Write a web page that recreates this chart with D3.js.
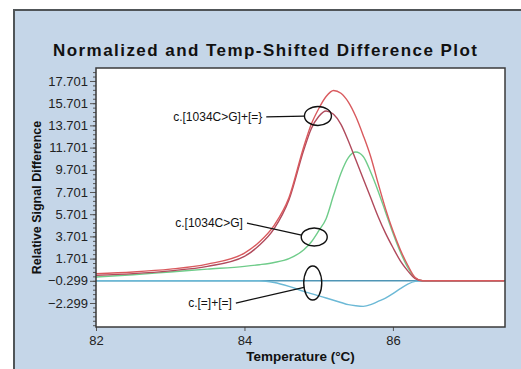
<!DOCTYPE html>
<html>
<head>
<meta charset="utf-8">
<script src="https://cdn.jsdelivr.net/npm/d3@7"></script>
<style>
  body { margin: 0; background: #fff; }
  svg { display: block; font-family: Arial, 'Liberation Sans', sans-serif; }
</style>
</head>
<body>
<div class="canva"></div>
<script>
// temperatures (°C) shared by all curves
const temps = [82, 82.5, 83, 83.5, 84, 84.2, 84.4, 84.6, 84.8, 84.9, 85.0, 85.1, 85.2, 85.3,
  85.4, 85.5, 85.6, 85.7, 85.8, 85.9, 86.0, 86.1, 86.2, 86.3, 86.4, 87.5];

// c.[1034C>G]+[=] (two replicates)
const hetA = [0.35, 0.5, 0.75, 1.2, 2.2, 3.2, 4.7, 7.2, 11.8, 13.8, 15.2, 16.3, 16.85, 16.6,
  15.8, 14.5, 12.8, 10.9, 8.5, 6.2, 4.2, 2.5, 1.1, 0.0, -0.3, -0.3];
const hetB = [0.2, 0.35, 0.6, 1.0, 1.9, 2.9, 4.4, 7.0, 11.5, 13.4, 14.5, 15.0, 14.7, 13.8,
  12.3, 10.6, 8.9, 7.2, 5.5, 4.0, 2.7, 1.5, 0.6, -0.1, -0.3, -0.3];
// c.[1034C>G]
const homo = [0.05, 0.25, 0.5, 0.75, 1.0, 1.15, 1.35, 1.7, 2.5, 3.2, 4.2, 5.3, 7.4, 9.4,
  10.8, 11.3, 10.9, 9.5, 7.8, 5.9, 4.0, 2.3, 0.9, -0.05, -0.3, -0.3];
// c.[=]+[=]
const wild = [-0.3, -0.3, -0.3, -0.3, -0.3, -0.3, -0.45, -0.8, -1.25, -1.45, -1.65, -1.85, -2.05, -2.25,
  -2.45, -2.55, -2.6, -2.45, -2.15, -1.85, -1.45, -1.0, -0.6, -0.35, -0.3, -0.3];

const baseline = -0.299;
const yTicks = [17.701, 15.701, 13.701, 11.701, 9.701, 7.701, 5.701, 3.701, 1.701, -0.299, -2.299];
const xTicks = [82, 84, 86];

// labels with their circled spot (data coords)
const notes = [
  { label: 'c.[1034C>G]+[=}', tx: 84.24, ty: 14.46, cx: 84.99, cy: 14.55, rx: 13.5, ry: 9.5 },
  { label: 'c.[1034C>G]', tx: 83.98, ty: 4.9, cx: 84.94, cy: 3.65, rx: 13, ry: 9 },
  { label: 'c.[=]+[=]', tx: 83.83, ty: -2.3, cx: 84.92, cy: -0.5, rx: 9, ry: 17 }
];

const W = 521, H = 369;
const svg = d3.select('.canva').append('svg')
  .attr('width', W)
  .attr('height', H);

// blue panel
svg.append('rect')
  .attr('x', 14).attr('y', 10)
  .attr('width', W).attr('height', H)
  .attr('fill', '#c5d6e8')
  .attr('stroke', '#505558')
  .attr('stroke-width', 2);

const pL = 96, pR = 505, pT = 68, pB = 327;

const x = d3.scaleLinear().domain([82, 87.51]).range([pL, pR]);
const y = d3.scaleLinear().domain([-4.46, 18.87]).range([pB, pT]);

svg.append('rect')
  .attr('x', pL).attr('y', pT)
  .attr('width', pR - pL).attr('height', pB - pT)
  .attr('fill', '#fff');

// title
svg.append('text')
  .attr('x', 265).attr('y', 56)
  .attr('text-anchor', 'middle')
  .attr('font-size', 17)
  .attr('font-weight', 'bold')
  .attr('fill', '#111')
  .attr('textLength', 424)
  .attr('lengthAdjust', 'spacing')
  .text('Normalized and Temp-Shifted Difference Plot');

// axes
const yAxis = d3.axisLeft(y).tickValues(yTicks).tickSize(6).tickFormat(d3.format('.3f'));
const yMinor = d3.axisLeft(y).tickValues(d3.range(-4.299, 18.8, 0.4)).tickSize(3).tickFormat('');
const xAxis = d3.axisBottom(x).tickValues(xTicks).tickSize(4).tickFormat(d3.format('d'));

const gy = svg.append('g').attr('transform', `translate(${pL},0)`).call(yAxis);
svg.append('g').attr('transform', `translate(${pL},0)`).call(yMinor);
const gx = svg.append('g').attr('transform', `translate(0,${pB})`).call(xAxis);

svg.selectAll('.domain').remove();
svg.selectAll('.tick line').attr('stroke', '#555');
gy.selectAll('text').attr('font-size', 13).attr('fill', '#222').attr('x', -8);
gx.selectAll('text').attr('font-size', 13).attr('fill', '#222').attr('y', 9);

// axis titles
svg.append('text')
  .attr('transform', `translate(41,${(pT + pB) / 2}) rotate(-90)`)
  .attr('text-anchor', 'middle')
  .attr('font-size', 12.5)
  .attr('font-weight', 'bold')
  .attr('fill', '#111')
  .text('Relative Signal Difference');

svg.append('text')
  .attr('x', (pL + pR) / 2).attr('y', 361)
  .attr('text-anchor', 'middle')
  .attr('font-size', 13.5)
  .attr('font-weight', 'bold')
  .attr('fill', '#111')
  .text('Temperature (°C)');

// curves
const plot = svg.append('g');
const line = d3.line()
  .x(d => x(d[0]))
  .y(d => y(d[1]))
  .curve(d3.curveMonotoneX);

plot.append('line')
  .attr('x1', pL).attr('x2', pR)
  .attr('y1', y(baseline)).attr('y2', y(baseline))
  .attr('stroke', '#4f95b5')
  .attr('stroke-width', 1.5);

const series = [
  { vals: wild, color: '#6cb9d6' },
  { vals: homo, color: '#6fcc8a' },
  { vals: hetB, color: '#b04a5c' },
  { vals: hetA, color: '#d95a5e' }
];

series.forEach(s => {
  plot.append('path')
    .datum(temps.map((t, i) => [t, s.vals[i]]))
    .attr('d', line)
    .attr('fill', 'none')
    .attr('stroke', s.color)
    .attr('stroke-width', 1.4);
});

// frame
svg.append('rect')
  .attr('x', pL).attr('y', pT)
  .attr('width', pR - pL).attr('height', pB - pT)
  .attr('fill', 'none')
  .attr('stroke', '#3a3a3a')
  .attr('stroke-width', 1.5);

// annotations
const ann = svg.append('g');
notes.forEach(n => {
  const cx = x(n.cx), cy = y(n.cy);
  const tx = x(n.tx), ty = y(n.ty);
  ann.append('text')
    .attr('x', tx).attr('y', ty)
    .attr('dy', '0.35em')
    .attr('text-anchor', 'end')
    .attr('font-size', 12)
    .attr('fill', '#111')
    .text(n.label);
  // leader line ends on the ellipse edge
  const ang = Math.atan2(ty - cy, tx + 4 - cx);
  ann.append('line')
    .attr('x1', tx + 4).attr('y1', ty)
    .attr('x2', cx + n.rx * Math.cos(ang)).attr('y2', cy + n.ry * Math.sin(ang))
    .attr('stroke', '#111')
    .attr('stroke-width', 1.3);
  ann.append('ellipse')
    .attr('cx', cx).attr('cy', cy)
    .attr('rx', n.rx).attr('ry', n.ry)
    .attr('fill', 'none')
    .attr('stroke', '#111')
    .attr('stroke-width', 1.4);
});
</script>
</body>
</html>
